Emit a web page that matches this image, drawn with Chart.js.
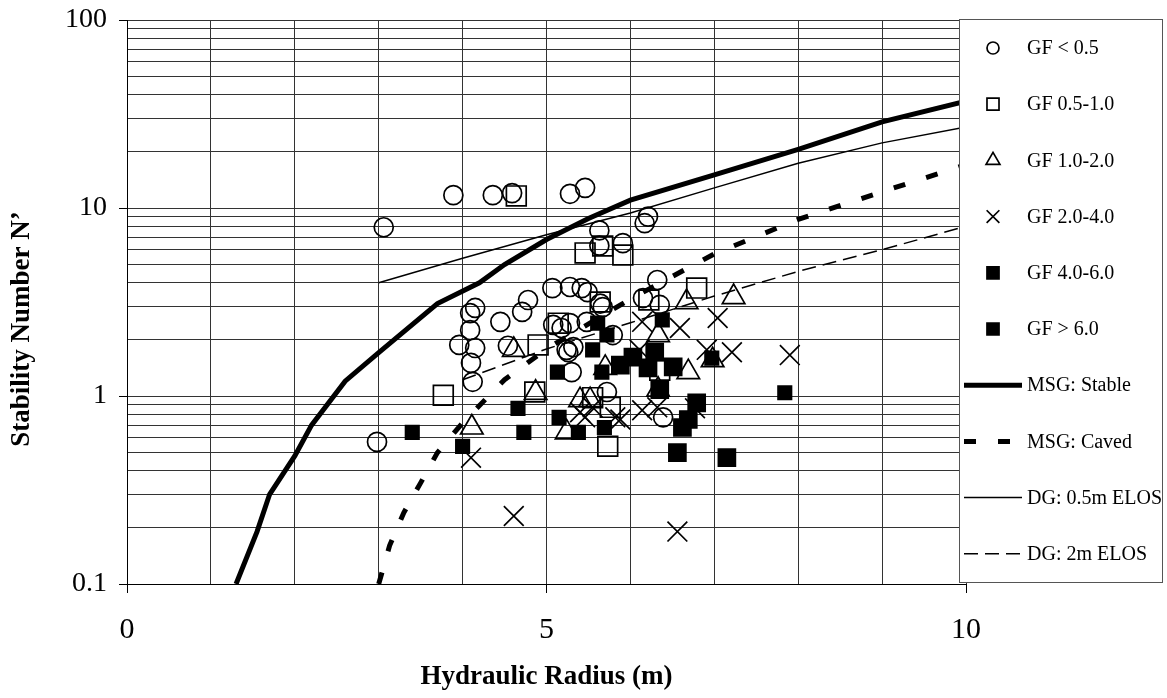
<!DOCTYPE html>
<html lang="en">
<head>
<meta charset="UTF-8" />
<title>Stability Graph</title>
<script src="https://cdn.jsdelivr.net/npm/chart.js"></script>
<style>
  html, body { margin: 0; padding: 0; background: #fff; }
  #chart { display: block; }
</style>
</head>
<body>
<canvas id="chart" width="1167" height="698"></canvas>
<script>
// Case histories, grouped by gravity factor (hydraulic radius in m, stability number N')
const gf05X = [3.06, 3.89, 4.36, 4.59, 5.28, 5.46, 5.63, 5.63, 5.91, 6.17, 6.21, 5.07, 5.28, 5.42, 5.49, 5.64, 5.67, 6.32, 6.35, 6.15, 4.78, 4.71, 4.15, 4.09, 4.45, 4.09, 3.96, 4.15, 4.10, 4.12, 4.54, 5.08, 5.18, 5.24, 2.98, 5.28, 5.48, 5.79, 5.32, 5.26, 5.30, 5.72, 6.39];
const gf05Y = [7.9, 11.7, 11.7, 12.0, 11.9, 12.8, 7.6, 6.3, 6.5, 8.3, 9.0, 3.75, 3.8, 3.75, 3.57, 3.1, 2.97, 4.14, 3.05, 3.32, 3.24, 2.8, 2.94, 2.76, 2.48, 2.24, 1.87, 1.80, 1.50, 1.19, 1.85, 2.39, 2.30, 1.76, 0.57, 2.44, 2.48, 2.11, 1.82, 1.71, 1.34, 1.05, 0.77];

const gf10X = [4.64, 5.46, 5.67, 5.91, 6.79, 5.64, 6.22, 5.14, 4.90, 3.77, 4.86, 5.73, 6.35, 5.55, 5.76];
const gf10Y = [11.6, 5.77, 6.28, 5.62, 3.75, 3.16, 3.24, 2.44, 1.87, 1.01, 1.05, 0.54, 1.37, 0.98, 0.87];

const gf20X = [4.61, 4.87, 4.11, 5.24, 6.67, 7.23, 6.33, 6.69, 6.33, 5.40, 5.52, 6.98, 5.70];
const gf20Y = [1.76, 1.04, 0.68, 0.64, 3.16, 3.36, 2.11, 1.34, 1.08, 0.95, 0.95, 1.55, 1.41];

const gf40X = [4.10, 4.61, 6.56, 6.14, 6.59, 7.04, 6.91, 7.21, 7.90, 6.11, 6.14, 6.32, 6.77, 5.46, 5.82, 5.40, 5.55, 5.88];
const gf40Y = [0.47, 0.23, 0.19, 2.48, 2.30, 2.60, 1.76, 1.71, 1.65, 1.76, 0.84, 0.87, 0.86, 0.77, 0.77, 0.82, 0.87, 0.75];

const gf60X = [3.40, 4.00, 4.66, 4.73, 5.15, 5.38, 5.69, 7.84, 5.13, 5.61, 5.72, 5.55, 5.66, 6.38, 6.97];
const gf60Y = [0.64, 0.54, 0.86, 0.64, 0.77, 0.64, 0.68, 1.04, 1.34, 2.44, 2.11, 1.76, 1.34, 2.54, 1.59];

const gfHighX = [5.88, 6.03, 6.21, 6.29, 6.51, 6.35, 6.79, 6.69, 6.62, 6.56, 7.15];
const gfHighY = [1.46, 1.61, 1.41, 1.71, 1.43, 1.08, 0.92, 0.75, 0.68, 0.50, 0.47];

// Design curves
const msgStableX = [1.3, 1.55, 1.7, 2.0, 2.2, 2.6, 3.0, 3.7, 4.2, 4.5, 5.0, 5.5, 6.0, 7.0, 8.0, 9.0, 10.0];
const msgStableY = [0.1, 0.19, 0.3, 0.48, 0.7, 1.2, 1.7, 3.1, 4.0, 5.0, 6.8, 8.8, 11.0, 15.0, 20.5, 28.7, 37.0];

const msgCavedX = [3.0, 3.13, 3.3, 3.5, 3.7, 4.0, 4.5, 5.0, 6.0, 7.0, 8.0, 9.0, 10.0];
const msgCavedY = [0.1, 0.16, 0.24, 0.345, 0.5, 0.72, 1.22, 1.78, 3.28, 5.7, 8.7, 12.2, 17.0];

const dgHalfX = [3.0, 4.0, 5.0, 6.0, 7.0, 8.0, 9.0, 10.0];
const dgHalfY = [4.0, 5.4, 7.2, 9.4, 12.8, 17.3, 22.2, 27.0];

const dgTwoX = [4.0, 5.0, 6.0, 7.0, 8.0, 9.0, 10.0];
const dgTwoY = [1.22, 1.78, 2.45, 3.4, 4.6, 6.0, 8.0];

// Axis ticks
const xLabelTicks = [0, 5, 10];
const yLabelTicks = [0.1, 1, 10, 100];
const yDecades = [0.1, 1, 10];
const yMultipliers = [1, 2, 3, 4, 5, 6, 7, 8, 9];

const serif = "'Liberation Serif', 'Times New Roman', serif";
const yGridValues = yDecades.flatMap(d => yMultipliers.map(m => d * m)).concat([100]);
const isLabelled = (v, list) => list.some(t => Math.abs(t - v) < 1e-9);
const zip = (xs, ys) => xs.map((x, i) => ({ x: x, y: ys[i] }));

function markerSet(label, xs, ys, style, radius, filled, legendRadius) {
  return {
    label: label,
    data: zip(xs, ys),
    showLine: false,
    pointStyle: style,
    pointRadius: radius,
    pointHoverRadius: radius,
    pointBorderColor: '#000',
    pointBackgroundColor: filled ? '#000' : 'rgba(0,0,0,0)',
    pointBorderWidth: 1.7,
    legendRadius: legendRadius,
    order: 2
  };
}

function curveSet(label, xs, ys, width, dash) {
  return {
    label: label,
    data: zip(xs, ys),
    showLine: true,
    borderColor: '#000',
    borderWidth: width,
    borderDash: dash,
    pointRadius: 0,
    pointHoverRadius: 0,
    tension: 0,
    fill: false,
    order: 1
  };
}

// Boxed legend on the right, drawn over the plot edge
const boxLegend = {
  id: 'boxLegend',
  afterDraw(chart) {
    const ctx = chart.ctx;
    const left = chart.chartArea.right - 7;
    const top = chart.chartArea.top - 1;
    const width = 203, height = 563;
    const rowStep = 56.2;
    ctx.save();
    ctx.fillStyle = '#fff';
    ctx.fillRect(left, top, width, height);
    ctx.strokeStyle = '#555';
    ctx.lineWidth = 1;
    ctx.strokeRect(left + 0.5, top + 0.5, width, height);

    ctx.font = '20px ' + serif;
    ctx.textBaseline = 'middle';
    ctx.textAlign = 'left';
    chart.data.datasets.forEach((ds, i) => {
      const y = top + 29 + i * rowStep;
      ctx.save();
      if (ds.showLine) {
        ctx.strokeStyle = '#000';
        ctx.lineWidth = ds.borderWidth;
        ctx.setLineDash(ds.borderDash || []);
        ctx.beginPath();
        ctx.moveTo(left + 5, y);
        ctx.lineTo(left + 63, y);
        ctx.stroke();
      } else {
        ctx.strokeStyle = '#000';
        ctx.fillStyle = ds.pointBackgroundColor;
        ctx.lineWidth = 1.7;
        Chart.helpers.drawPoint(ctx, {
          pointStyle: ds.pointStyle,
          radius: ds.legendRadius,
          rotation: 0,
          borderWidth: 1.7
        }, left + 34, y);
      }
      ctx.restore();
      ctx.fillStyle = '#000';
      ctx.fillText(ds.label, left + 68, y + 1);
    });
    ctx.restore();
  }
};

// Vertical axis caption
const yCaption = {
  id: 'yCaption',
  afterDraw(chart) {
    const ctx = chart.ctx;
    ctx.save();
    ctx.translate(22, 329);
    ctx.rotate(-Math.PI / 2);
    ctx.font = 'bold 27px ' + serif;
    ctx.fillStyle = '#000';
    ctx.textAlign = 'center';
    ctx.textBaseline = 'middle';
    ctx.fillText('Stability Number N\u2019', 0, 0);
    ctx.restore();
  }
};

new Chart(document.getElementById('chart'), {
  type: 'scatter',
  data: {
    datasets: [
      markerSet('GF < 0.5', gf05X, gf05Y, 'circle', 9.5, false, 6),
      markerSet('GF 0.5-1.0', gf10X, gf10Y, 'rect', 14, false, 8.5),
      markerSet('GF 1.0-2.0', gf20X, gf20Y, 'triangle', 13, false, 8),
      markerSet('GF 2.0-4.0', gf40X, gf40Y, 'crossRot', 14, false, 9),
      markerSet('GF 4.0-6.0', gf60X, gf60Y, 'rect', 9.5, true, 8.5),
      markerSet('GF > 6.0', gfHighX, gfHighY, 'rect', 12, true, 8.5),
      curveSet('MSG: Stable', msgStableX, msgStableY, 5, []),
      curveSet('MSG: Caved', msgCavedX, msgCavedY, 5, [12, 22]),
      curveSet('DG: 0.5m ELOS', dgHalfX, dgHalfY, 1.5, []),
      curveSet('DG: 2m ELOS', dgTwoX, dgTwoY, 1.5, [14, 7])
    ]
  },
  options: {
    responsive: false,
    devicePixelRatio: 1,
    animation: false,
    layout: { padding: { top: 20, right: 201, left: 0, bottom: 0 } },
    plugins: {
      legend: { display: false },
      tooltip: { enabled: false }
    },
    scales: {
      x: {
        type: 'linear',
        position: 'bottom',
        min: 0,
        max: 10,
        afterFit(s) { s.height = 114; s.paddingLeft = 0; s.paddingRight = 0; },
        ticks: {
          stepSize: 1,
          autoSkip: false,
          maxRotation: 0,
          padding: 19,
          color: '#000',
          font: { family: serif, size: 30 },
          callback: v => (isLabelled(v, xLabelTicks) ? String(v) : '')
        },
        grid: {
          color: '#333',
          lineWidth: 1,
          tickLength: 9,
          tickColor: c => (c.tick && isLabelled(c.tick.value, xLabelTicks) ? '#000' : 'rgba(0,0,0,0)')
        },
        border: { color: '#000', width: 1 },
        title: {
          display: true,
          text: 'Hydraulic Radius (m)',
          color: '#000',
          font: { family: serif, size: 27, weight: 'bold' },
          padding: { top: 0, bottom: 5 }
        }
      },
      y: {
        type: 'logarithmic',
        min: 0.1,
        max: 100,
        afterFit(s) { s.width = 127; s.paddingTop = 0; s.paddingBottom = 0; },
        afterBuildTicks(s) { s.ticks = yGridValues.map(v => ({ value: v })); },
        ticks: {
          autoSkip: false,
          padding: 12,
          color: '#000',
          font: { family: serif, size: 28 },
          callback: v => (isLabelled(v, yLabelTicks) ? String(v) : '')
        },
        grid: {
          color: '#333',
          lineWidth: 1,
          tickLength: 8,
          tickColor: c => (c.tick && isLabelled(c.tick.value, yLabelTicks) ? '#000' : 'rgba(0,0,0,0)')
        },
        border: { color: '#000', width: 1 }
      }
    }
  },
  plugins: [boxLegend, yCaption]
});
</script>
</body>
</html>
